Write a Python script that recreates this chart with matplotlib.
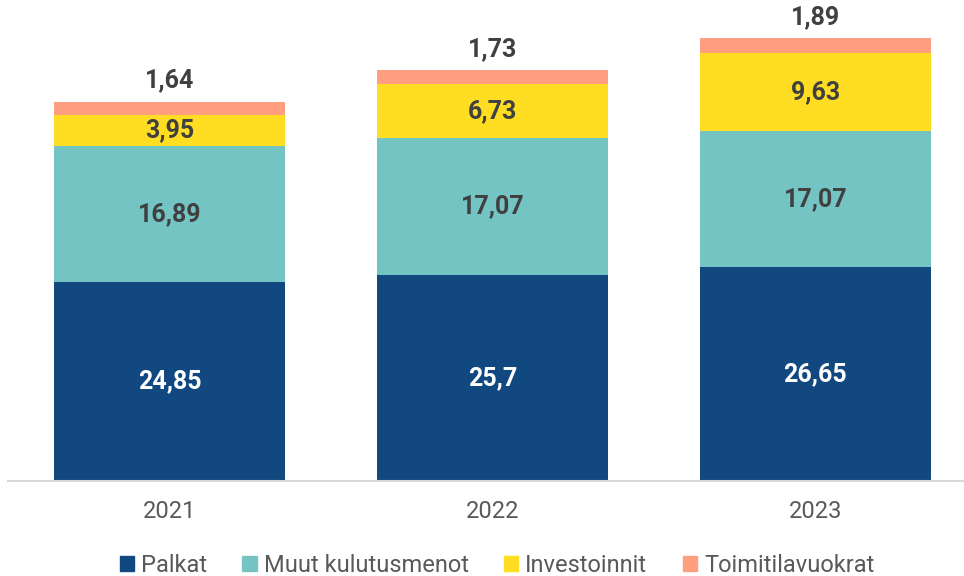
import matplotlib.pyplot as plt
import numpy as np

plt.rcParams['font.family'] = ['Roboto', 'DejaVu Sans']

years = ['2021', '2022', '2023']
series = ['Palkat', 'Muut kulutusmenot', 'Investoinnit', 'Toimitilavuokrat']
palkat = [24.85, 25.7, 26.65]
muut = [16.89, 17.07, 17.07]
investoinnit = [3.95, 6.73, 9.63]
vuokrat = [1.64, 1.73, 1.89]
colors = ['#10487F', '#74C4C4', '#FFDD22', '#FF9F80']

fig = plt.figure(figsize=(9.64, 5.76), dpi=100)
ax = fig.add_axes([8/964, 95/576, 956/964, 481/576])

x = np.arange(len(years))
values = [palkat, muut, investoinnit, vuokrat]
bottom = np.zeros(len(years))
for vals, col, name in zip(values, colors, series):
    vals = np.array(vals)
    ax.bar(x, vals, 0.714, bottom=bottom, color=col, label=name)
    for xi, b, v in zip(x, bottom, vals):
        txt = f'{v:g}'.replace('.', ',')
        if name == 'Toimitilavuokrat':
            ax.text(xi, b + v + 2.65, txt, ha='center', va='center',
                    fontsize=18, fontweight='bold', color='#404040')
        else:
            ax.text(xi, b + v / 2, txt, ha='center', va='center',
                    fontsize=18, fontweight='bold',
                    color='white' if name == 'Palkat' else '#404040')
    bottom += vals

ax.set_xlim(-0.5, 2.46)
ax.set_ylim(0, 60)
ax.set_xticks(x)
ax.set_xticklabels(years, fontsize=17, color='#595959')
ax.tick_params(axis='x', length=0, pad=14)
ax.set_yticks([])
for s in ['top', 'right', 'left']:
    ax.spines[s].set_visible(False)
ax.spines['bottom'].set_color('#D9D9D9')
ax.spines['bottom'].set_linewidth(1.5)

handles = [plt.Rectangle((0, 0), 1, 1, color=c) for c in colors]
fig.legend(handles, series, loc='center', bbox_to_anchor=(497/964, 1 - 565/576),
           ncol=4, frameon=False, fontsize=17, handlelength=0.6, handleheight=0.6,
           handletextpad=0.3, columnspacing=1.5, labelcolor='#595959')

fig.savefig('out.png', dpi=100)
